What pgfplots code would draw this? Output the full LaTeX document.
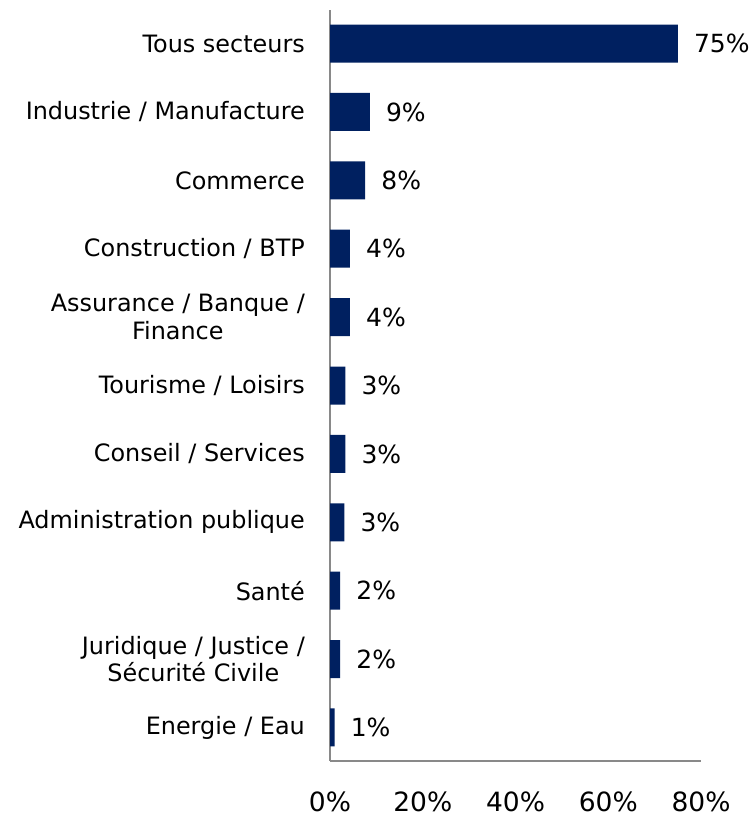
\documentclass[border=0pt]{standalone}
\usepackage{fontspec}
\setmainfont{DejaVu Sans}
\usepackage{pgfplots}
\pgfplotsset{compat=1.18}
\definecolor{navy}{RGB}{0,32,96}
\definecolor{axgray}{RGB}{137,137,137}
\begin{document}
\begin{tikzpicture}
\useasboundingbox (0,0) rectangle (753bp,817bp);
\begin{axis}[
  at={(330bp,56bp)}, anchor=south west,
  scale only axis, width=371bp, height=751bp,
  xbar, bar width=38bp,
  xmin=0, xmax=80, ymin=-0.49, ymax=10.49, y dir=reverse,
  axis x line*=bottom, axis y line*=left,
  axis line style={axgray, line width=1.5bp, -},
  major tick length=0pt,
  xtick={0,20,40,60,80},
  xticklabels={0\%,20\%,40\%,60\%,80\%},
  xticklabel style={font=\fontsize{26.5bp}{30bp}\selectfont, anchor=north, inner sep=0pt, yshift=-31bp},
  ytick={0,1,2,3,4,5,6,7,8,9,10},
  yticklabels={Tous secteurs, Industrie / Manufacture, Commerce, Construction / BTP, Assurance / Banque /\\Finance, Tourisme / Loisirs, Conseil / Services, Administration publique, Santé, Juridique / Justice /\\Sécurité Civile, Energie / Eau},
  yticklabel style={font=\fontsize{23.9bp}{27.5bp}\selectfont, align=center, anchor=east, inner sep=0pt, xshift=-25bp},
  point meta=explicit symbolic,
  nodes near coords,
  every node near coord/.style={font=\fontsize{25bp}{27.5bp}\selectfont, anchor=west, inner sep=0pt, xshift=16bp, text=black},
  clip=false,
]
\addplot[fill=navy, draw=none] coordinates {
  (75,0) [75\%]
  (8.6,1) [9\%]
  (7.6,2) [8\%]
  (4.3,3) [4\%]
  (4.3,4) [4\%]
  (3.3,5) [3\%]
  (3.3,6) [3\%]
  (3.1,7) [3\%]
  (2.2,8) [2\%]
  (2.2,9) [2\%]
  (1.0,10) [1\%]
};
\end{axis}
\end{tikzpicture}
\end{document}
